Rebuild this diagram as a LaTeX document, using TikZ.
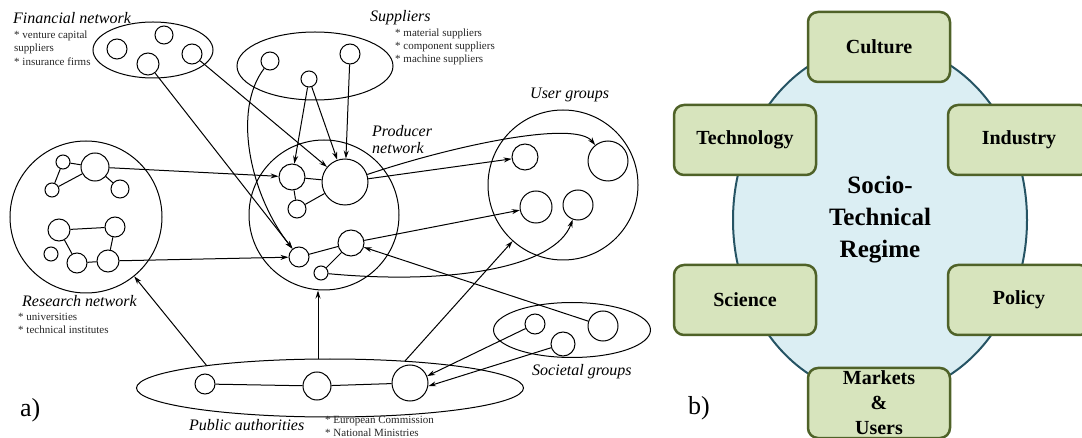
\documentclass[tikz,border=0pt]{standalone}
\usepackage{fontspec}
\setmainfont{LiberationSerif}[
  Extension=.ttf,
  UprightFont=*-Regular,
  BoldFont=*-Bold,
  ItalicFont=*-Italic,
  BoldItalicFont=*-BoldItalic]
\usetikzlibrary{shapes.geometric,arrows.meta}
\definecolor{regimefill}{RGB}{219,238,243}
\definecolor{regimeline}{RGB}{38,84,100}
\definecolor{boxfill}{RGB}{215,228,189}
\definecolor{boxline}{RGB}{79,98,40}
\begin{document}
\begin{tikzpicture}[x=1pt,y=-1pt,
  nd/.style={circle,draw,line width=1pt,inner sep=0pt,minimum size=#1},
  grp/.style={ellipse,draw,line width=1pt,inner sep=0pt},
  link/.style={line width=1pt},
  arr/.style={line width=1pt,-{Stealth[length=8pt,width=5pt]}},
  ttl/.style={font=\fontsize{16}{17}\selectfont\itshape,anchor=base west,inner sep=0pt},
  note/.style={font=\fontsize{11}{13}\selectfont,anchor=base west,inner sep=0pt,text=black!85},
  panel/.style={font=\fontsize{26}{28}\selectfont,anchor=base west,inner sep=0pt},
  dim/.style={rectangle,rounded corners=10pt,draw=boxline,fill=boxfill,line width=2.5pt,
    minimum width=142pt,minimum height=70pt,inner sep=0pt,align=center,
    font=\fontsize{20}{25}\selectfont\bfseries}
]
\useasboundingbox (0,0) rectangle (1082,438);
\clip (0,0) rectangle (1082,438);

% ---------- a) actor networks ----------
% group outlines
\node[grp,minimum width=120pt,minimum height=56pt] (finnet) at (153,50) {};
\node[grp,minimum width=156pt,minimum height=68pt] (supnet) at (315,66) {};
\node[nd=152pt] (resnet) at (86,217) {};
\node[nd=150pt] (prodnet) at (324,215) {};
\node[nd=150pt] (usernet) at (563,185) {};
\node[grp,minimum width=157pt,minimum height=55pt] (socnet) at (572,330) {};
\node[grp,minimum width=387pt,minimum height=58pt] (pubnet) at (330,388) {};

% financial network actors
\node[nd=20pt] (f1) at (117,49) {};
\node[nd=18pt] (f2) at (164,35) {};
\node[nd=22pt] (f3) at (148,64) {};
\node[nd=20pt] (f4) at (192,54) {};

% suppliers
\node[nd=18pt] (q1) at (270,61) {};
\node[nd=16pt] (q2) at (309,79) {};
\node[nd=20pt] (q3) at (350,54) {};

% research network
\node[nd=14pt] (r1) at (63,162) {};
\node[nd=28pt] (r2) at (95,167) {};
\node[nd=14pt] (r3) at (52,190) {};
\node[nd=18pt] (r4) at (120,189) {};
\node[nd=22pt] (r5) at (59,230) {};
\node[nd=20pt] (r6) at (115,227) {};
\node[nd=14pt] (r7) at (51,254) {};
\node[nd=20pt] (r8) at (77,263) {};
\node[nd=22pt] (r9) at (108,261) {};
\draw[link] (r1) -- (r2) (r1) -- (r3) (r3) -- (r2) (r2) -- (r4);
\draw[link] (r5) -- (r6) (r6) -- (r9) (r5) -- (r8) (r8) -- (r9);

% producer network
\node[nd=26pt] (p1) at (292,177) {};
\node[nd=46pt] (p2) at (345,182) {};
\node[nd=18pt] (p3) at (297,209) {};
\node[nd=20pt] (p4) at (299,257) {};
\node[nd=26pt] (p5) at (351,243) {};
\node[nd=14pt] (p6) at (321,273) {};
\draw[link] (p1) -- (p2) (p1) -- (p3) (p3) -- (p2) (p4) -- (p5) (p5) -- (p6);

% user groups
\node[nd=26pt] (u1) at (525,157) {};
\node[nd=40pt] (u2) at (608,161) {};
\node[nd=32pt] (u3) at (536,207) {};
\node[nd=30pt] (u4) at (578,205) {};

% societal groups
\node[nd=20pt] (s1) at (535,324) {};
\node[nd=24pt] (s2) at (563,344) {};
\node[nd=30pt] (s3) at (603,326) {};

% public authorities
\node[nd=20pt] (a1) at (205,384) {};
\node[nd=28pt] (a2) at (317,386) {};
\node[nd=36pt] (a3) at (410,383) {};
\draw[link] (a1) -- (a2) (a2) -- (a3);

% points on the public authorities outline
\coordinate (pa1) at (207,366);
\coordinate (pa2) at (318,359);
\coordinate (pa3) at (405,361);

% relations
\draw[arr] (f3) -- (p4);
\draw[arr] (f4) -- (p2);
\draw[arr] (q1) .. controls (232,110) and (250,195) .. (p4);
\draw[arr] (q2) -- (p1);
\draw[arr] (q2) -- (p2);
\draw[arr] (q3) -- (p2);
\draw[arr] (r2) -- (p1);
\draw[arr] (r9) -- (p4);
\draw[arr] (p2) -- (u1);
\draw[arr] (p2) .. controls (455,145) and (575,120) .. (u2);
\draw[arr] (p5) -- (u3);
\draw[arr] (p6) .. controls (450,285) and (555,268) .. (u4);
\draw[arr] (s3) -- (p5);
\draw[arr] (s1) -- (a3.22);
\draw[arr] (s2) -- (a3.-10);
\draw[arr] (pa1) -- (resnet);
\draw[arr] (pa2) -- (pa2 |- prodnet.south);
\draw[arr] (pa3) -- (usernet);

% labels
\node[ttl] (tfin) at (13,24) {Financial network};
\node[note] (nfin1) at (14,39) {* venture capital};
\node[note] (nfin2) at (14,52) {suppliers};
\node[note] (nfin3) at (14,66) {* insurance firms};

\node[ttl] (tsup) at (370,22) {Suppliers};
\node[note] (nsup1) at (395,37) {* material suppliers};
\node[note] (nsup2) at (395,50) {* component suppliers};
\node[note] (nsup3) at (395,63) {* machine suppliers};

\node[ttl] (tres) at (22,307) {Research network};
\node[note] (nres1) at (18,321) {* universities};
\node[note] (nres2) at (18,334) {* technical institutes};

\node[ttl] (tprod1) at (372,137) {Producer};
\node[ttl] (tprod2) at (372,154) {network};

\node[ttl] (tuser) at (530,99) {User groups};
\node[ttl] (tsoc) at (532,375) {Societal groups};

\node[ttl] (tpub) at (189,430) {Public authorities};
\node[note] (npub1) at (325,423) {* European Commission};
\node[note] (npub2) at (325,436) {* National Ministries};

\node[panel] (la) at (20,416) {a)};

% ---------- b) socio-technical regime ----------
\node[ellipse,draw=regimeline,fill=regimefill,line width=2pt,
  minimum width=294pt,minimum height=352pt,inner sep=0pt] (regime) at (880,220) {};
\node[align=center,font=\fontsize{25}{32}\selectfont\bfseries] (rtext) at (880,220)
  {Socio-\\Technical\\Regime};

\node[dim] (culture) at (879,47) {Culture};
\node[dim] (technology) at (745,140) {Technology};
\node[dim] (industry) at (1019,140) {Industry};
\node[dim] (science) at (745,300) {Science};
\node[dim] (policy) at (1019,300) {Policy};
\node[dim] (markets) at (879,403) {Markets\\\&\\Users};

\node[panel] (lb) at (688,414) {b)};
\end{tikzpicture}
\end{document}
